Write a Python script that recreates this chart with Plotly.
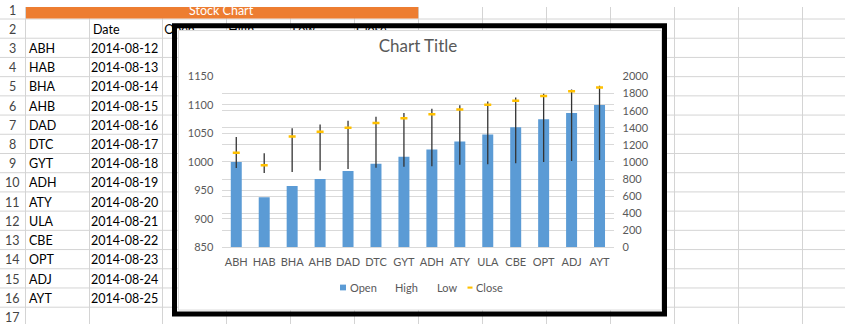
import plotly.graph_objects as go

W, H = 845, 330

# ---------------- data ----------------
tickers = ["ABH", "HAB", "BHA", "AHB", "DAD", "DTC", "GYT", "ADH", "ATY", "ULA", "CBE", "OPT", "ADJ", "AYT"]
dates = ["2014-08-12", "2014-08-13", "2014-08-14", "2014-08-15", "2014-08-16", "2014-08-17", "2014-08-18",
         "2014-08-19", "2014-08-20", "2014-08-21", "2014-08-22", "2014-08-23", "2014-08-24", "2014-08-25"]
open_vals = [1000, 938, 958, 970, 984, 997, 1009, 1022, 1036, 1048, 1061, 1075, 1086, 1100]
high_vals = [1292, 1101, 1393, 1438, 1483, 1528, 1573, 1621, 1663, 1708, 1753, 1798, 1846, 1891]
low_vals = [928, 872, 883, 899, 917, 933, 944, 951, 966, 973, 984, 1000, 1011, 1022]
close_vals = [1108, 962, 1299, 1352, 1400, 1456, 1512, 1557, 1614, 1670, 1715, 1771, 1827, 1872]
col_headers = ["Date", "Open", "High", "Low", "Close"]
sheet_title = "Stock Chart"
chart_title = "Chart Title"
legend_labels = ["Open", "High", "Low", "Close"]

# ---------------- styles / geometry (pixels) ----------------
FONT = "Lato"
GRID = "#D4D4D4"
CHART_GRID = "#D9D9D9"
AXIS_TXT = "#595959"
BLUE = "#5B9BD5"
GOLD = "#FFC000"
ORANGE = "#ED7D31"


def fx(px):
    return px / W


def fy(py):
    return 1 - py / H


col_lines = [25, 89] + [162 + 64 * k for k in range(11)]
row_lines = [12 + 20 * k for k in range(16)]
header_cols = [89, 162, 226, 290, 354]  # left edges of columns B..F


def row_mid(r):
    return 12 + 20 * (r - 1) - 8.8


shapes = []
for c in col_lines:
    shapes.append(dict(type="line", xref="paper", yref="paper", x0=fx(c + 0.5), x1=fx(c + 0.5), y0=0, y1=1,
                       line=dict(color=GRID, width=1), layer="below"))
for r in row_lines:
    shapes.append(dict(type="line", xref="paper", yref="paper", x0=0, x1=1, y0=fy(r + 0.5), y1=fy(r + 0.5),
                       line=dict(color=GRID, width=1), layer="below"))
# merged orange title cell
shapes.append(dict(type="rect", xref="paper", yref="paper", x0=fx(26), x1=fx(418.2), y0=fy(12), y1=1,
                   fillcolor=ORANGE, line=dict(width=0), layer="below"))
# chart area
shapes.append(dict(type="rect", xref="paper", yref="paper", x0=fx(178.5), x1=fx(661.5), y0=fy(315.5), y1=fy(24.5),
                   fillcolor="white", line=dict(color=CHART_GRID, width=1), layer="below"))
# legend keys
shapes.append(dict(type="rect", xref="paper", yref="paper", x0=fx(340), x1=fx(346), y0=fy(295), y1=fy(289),
                   fillcolor=BLUE, line=dict(width=0), layer="below"))
shapes.append(dict(type="rect", xref="paper", yref="paper", x0=fx(467.5), x1=fx(472.5), y0=fy(293.2), y1=fy(291),
                   fillcolor=GOLD, line=dict(width=0), layer="below"))
# black frame around the chart
shapes.append(dict(type="rect", xref="paper", yref="paper", x0=fx(174.5), x1=fx(664.5), y0=fy(319.5), y1=fy(19.5),
                   fillcolor="rgba(0,0,0,0)", line=dict(color="black", width=5), layer="above"))

ann = []


def add_text(text, x, y, anchor="left", size=12.5, color="black"):
    ann.append(dict(text=text, x=fx(x), y=fy(y), xref="paper", yref="paper", xanchor=anchor, yanchor="middle",
                    showarrow=False, borderpad=0, font=dict(family=FONT, size=size, color=color)))


add_text(sheet_title, 222, row_mid(1), anchor="center", color="white")
for r in range(1, 18):
    add_text(str(r), 12.5, row_mid(r), anchor="center", color="#444444")
for i, (t, d) in enumerate(zip(tickers, dates)):
    add_text(t, 25 + 3.3, row_mid(i + 3))
    add_text(d, 162 - 2.8, row_mid(i + 3), anchor="right")
add_text(col_headers[0], header_cols[0] + 3.3, row_mid(2))

# legend texts
legend_x = [349, 394, 436, 475]
for lab, lx in zip(legend_labels, legend_x):
    add_text(lab, lx, 291.5, size=11, color=AXIS_TXT)

fig = go.Figure()

# partially hidden header cells (clipped by the chart)
hdr_y = row_mid(2) + 1.4
fig.add_trace(go.Scatter(x=[header_cols[1] + 2.3], y=[hdr_y], text=[col_headers[1]], mode="text",
                         textposition="middle right", textfont=dict(family=FONT, size=12.5, color="black"),
                         xaxis="x3", yaxis="y3", cliponaxis=True, showlegend=False, hoverinfo="skip"))
fig.add_trace(go.Scatter(x=[c + 2.3 for c in header_cols[1:]], y=[hdr_y] * 4, text=col_headers[1:], mode="text",
                         textposition="middle right", textfont=dict(family=FONT, size=12.5, color="black"),
                         xaxis="x4", yaxis="y4", cliponaxis=True, showlegend=False, hoverinfo="skip"))

# chart
fig.add_trace(go.Bar(x=tickers, y=open_vals, name="Open", marker=dict(color=BLUE, line=dict(width=0)),
                     xaxis="x", yaxis="y", showlegend=False))
hl_x, hl_y = [], []
for t, lo, hi in zip(tickers, low_vals, high_vals):
    hl_x += [t, t, None]
    hl_y += [lo, hi, None]
fig.add_trace(go.Scatter(x=hl_x, y=hl_y, mode="lines", name="High-Low", line=dict(color="#333333", width=1.3),
                         xaxis="x", yaxis="y2", showlegend=False, connectgaps=False))
fig.add_trace(go.Scatter(x=tickers, y=close_vals, mode="markers", name="Close",
                         marker=dict(symbol="line-ew", size=5, line=dict(color=GOLD, width=2.5)),
                         xaxis="x", yaxis="y2", showlegend=False))

tickfont = dict(family=FONT, size=11, color=AXIS_TXT)
fig.update_layout(
    width=W, height=H, margin=dict(l=0, r=0, t=0, b=0),
    paper_bgcolor="white", plot_bgcolor="rgba(0,0,0,0)",
    showlegend=False, bargap=0.607,
    title=dict(text=chart_title, x=fx(418), y=fy(46), xref="paper", yref="container", xanchor="center",
               yanchor="middle", font=dict(family=FONT, size=17, color=AXIS_TXT)),
    xaxis=dict(domain=[fx(222.3), fx(613.5)], type="category", range=[-0.5, 13.5], showgrid=False,
               showline=True, linecolor=CHART_GRID, linewidth=1, ticks="", tickfont=tickfont,
               ticklabelstandoff=4, zeroline=False),
    yaxis=dict(domain=[fy(250.3), fy(72.3)], range=[850, 1150], tick0=850, dtick=50, showgrid=True,
               gridcolor=CHART_GRID, gridwidth=1, zeroline=False, showline=False, ticks="", tickfont=tickfont,
               ticklabelstandoff=8),
    yaxis2=dict(overlaying="y", side="right", anchor="x", range=[0, 2000], tick0=0, dtick=200, showgrid=True,
                gridcolor=CHART_GRID, gridwidth=1, zeroline=False, showline=False, ticks="", tickfont=tickfont,
                ticklabelstandoff=8),
    xaxis3=dict(domain=[0, fx(172)], range=[0, 172], visible=False, anchor="y3"),
    yaxis3=dict(domain=[0, 1], range=[330, 0], visible=False, anchor="x3"),
    xaxis4=dict(domain=[fx(177), fx(662)], range=[177, 662], visible=False, anchor="y4"),
    yaxis4=dict(domain=[fy(24), 1], range=[24, 0], visible=False, anchor="x4"),
    shapes=shapes, annotations=ann,
)

fig.write_html("out.html", config={"displayModeBar": False})
